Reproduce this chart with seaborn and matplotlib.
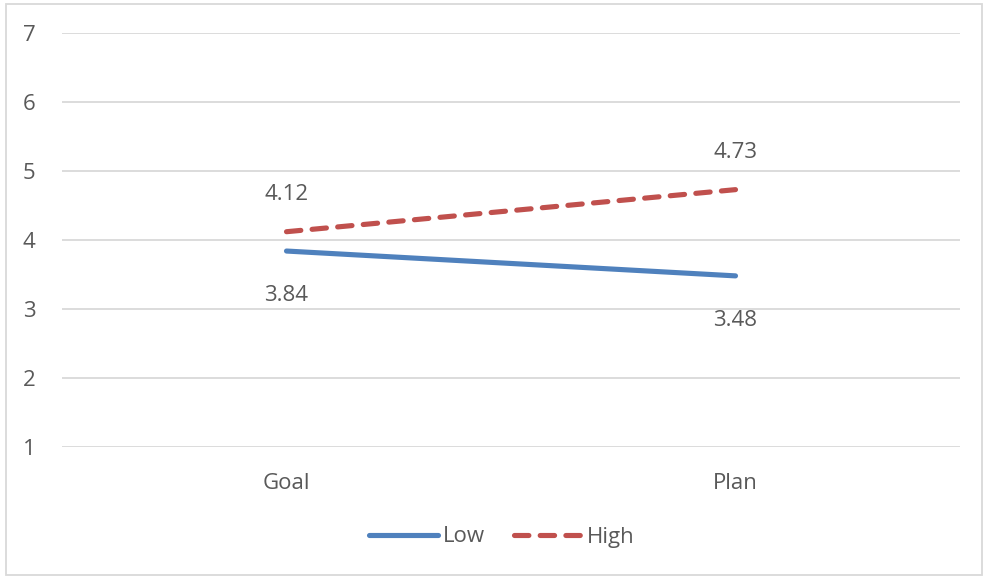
import matplotlib
matplotlib.use("Agg")
import matplotlib.pyplot as plt
import seaborn as sns
import pandas as pd
from matplotlib.patches import Rectangle
from matplotlib.lines import Line2D

categories = ["Goal", "Plan"]
low_values = [3.84, 3.48]
high_values = [4.12, 4.73]
series_names = ["Low", "High"]
y_ticks = [1, 2, 3, 4, 5, 6, 7]

df = pd.DataFrame({
    "task": categories * 2,
    "x": [0, 1, 0, 1],
    "value": low_values + high_values,
    "group": [series_names[0]] * 2 + [series_names[1]] * 2,
})

sns.set_theme(style="white")
plt.rcParams["font.family"] = ["Open Sans", "DejaVu Sans"]

text_color = "#595959"
grid_color = "#D9D9D9"
palette = {"Low": "#4F81BD", "High": "#C0504D"}
dash_pattern = (2.8, 2.2)
lw = 3.7
fs = 16

fig = plt.figure(figsize=(9.84, 5.77), dpi=100)
ax = fig.add_axes([62 / 984, 1 - 447 / 577, 898 / 984, 414 / 577])

sns.lineplot(data=df, x="x", y="value", hue="group", palette=palette,
             style="group", dashes={"Low": "", "High": dash_pattern},
             linewidth=lw, ax=ax, legend=False)
for line in ax.lines:
    line.set_solid_capstyle("round")
    line.set_dash_capstyle("round")

ax.set_xlim(-0.5, 1.5)
ax.set_ylim(1, 7)
ax.set_yticks(y_ticks)
ax.set_xticks([0, 1])
ax.set_xticklabels(categories)
ax.set_xlabel("")
ax.set_ylabel("")
ax.tick_params(axis="both", length=0, labelsize=fs, colors=text_color)
ax.tick_params(axis="y", pad=19)
ax.tick_params(axis="x", pad=19)
for s in ax.spines.values():
    s.set_visible(False)
ax.grid(axis="y", color=grid_color, linewidth=1.3)
ax.set_axisbelow(True)

# value labels: high series above its points, low series below
for i, v in enumerate(high_values):
    ax.annotate(f"{v:.2f}", (i, v), xytext=(0, 27), textcoords="offset points",
                ha="center", va="center", fontsize=fs, color=text_color)
for i, v in enumerate(low_values):
    ax.annotate(f"{v:.2f}", (i, v), xytext=(0, -32), textcoords="offset points",
                ha="center", va="center", fontsize=fs, color=text_color)

# legend below the plot
handles = [
    Line2D([], [], color=palette["Low"], lw=lw, solid_capstyle="round"),
    Line2D([], [], color=palette["High"], lw=lw, dashes=dash_pattern, dash_capstyle="round"),
]
fig.legend(handles, series_names, loc="center", bbox_to_anchor=(502 / 984, 1 - 537 / 577),
           ncol=2, frameon=False, fontsize=fs, labelcolor=text_color,
           handlelength=3.1, handletextpad=0.2, columnspacing=1.3)

fig.patches.append(Rectangle((6 / 984, 2 / 577), 976 / 984, 571 / 577, transform=fig.transFigure,
                             fill=False, edgecolor=grid_color, linewidth=1.3))

fig.savefig("out.png", dpi=100)
